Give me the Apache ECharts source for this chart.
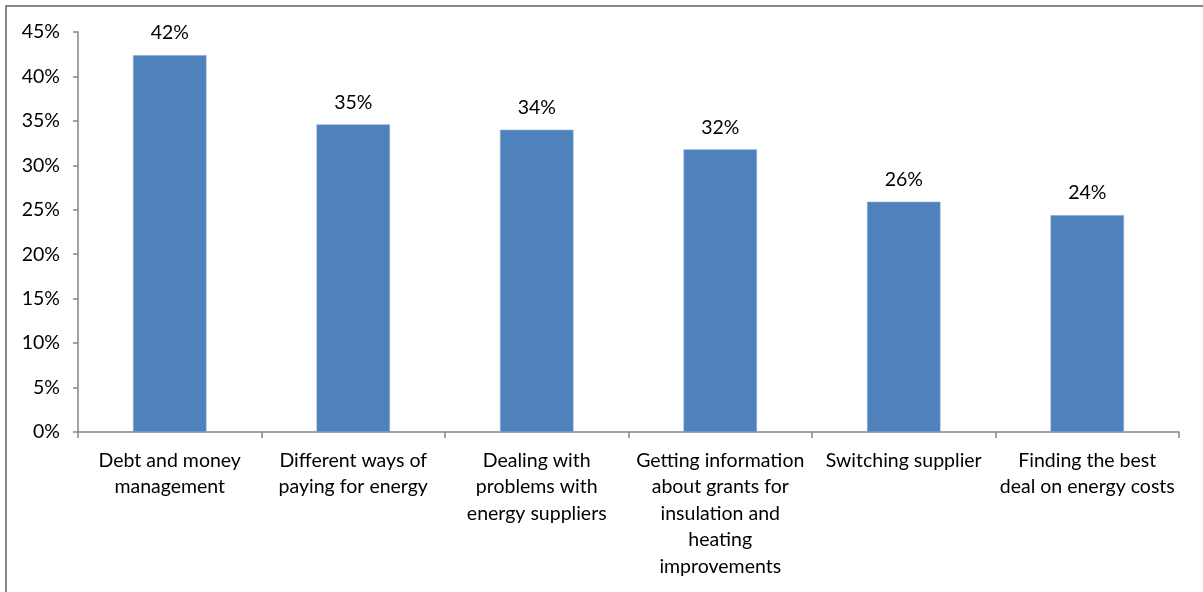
<!DOCTYPE html>
<html>
<head>
<meta charset="utf-8">
<title>Advice topics</title>
<script src="https://cdn.jsdelivr.net/npm/echarts@6/dist/echarts.min.js"></script>
<style>
  html, body { margin: 0; padding: 0; background: #ffffff; }
  #chart { width: 1203px; height: 592px; }
</style>
</head>
<body>
<div id="chart"></div>
<script>
// Advice topics and share of respondents (%)
const categories = [
  'Debt and money\nmanagement',
  'Different ways of\npaying for energy',
  'Dealing with\nproblems with\nenergy suppliers',
  'Getting information\nabout grants for\ninsulation and\nheating\nimprovements',
  'Switching supplier',
  'Finding the best\ndeal on energy costs'
];
const shares = [42.4, 34.6, 34.0, 31.8, 25.9, 24.4];
const yTicks = { min: 0, max: 45, step: 5 };

const FONT = 'Lato, "Open Sans", sans-serif';
const FONT_SIZE = 19.5;
const AXIS_GREY = '#868686';

const chart = echarts.init(document.getElementById('chart'), null, { renderer: 'canvas' });

chart.setOption({
  animation: false,
  backgroundColor: '#ffffff',
  grid: { left: 78, right: 24, top: 32, bottom: 160, containLabel: false },
  graphic: [
    { type: 'line', shape: { x1: 5, y1: 6, x2: 1203, y2: 6 },
      style: { stroke: AXIS_GREY, lineWidth: 2 }, silent: true },
    { type: 'line', shape: { x1: 6, y1: 5, x2: 6, y2: 592 },
      style: { stroke: AXIS_GREY, lineWidth: 2 }, silent: true }
  ],
  xAxis: {
    type: 'category',
    data: categories,
    boundaryGap: true,
    axisLine: { show: true, lineStyle: { color: AXIS_GREY, width: 1.5 } },
    axisTick: { show: true, alignWithLabel: false, length: 6, lineStyle: { color: AXIS_GREY, width: 1.5 } },
    axisLabel: {
      interval: 0,
      margin: 15,
      color: '#000000',
      fontFamily: FONT,
      fontSize: FONT_SIZE,
      lineHeight: 26.5,
      align: 'center',
      verticalAlign: 'top'
    },
    splitLine: { show: false }
  },
  yAxis: {
    type: 'value',
    min: yTicks.min,
    max: yTicks.max,
    interval: yTicks.step,
    axisLine: { show: true, lineStyle: { color: AXIS_GREY, width: 1.5 } },
    axisTick: { show: true, length: 5, lineStyle: { color: AXIS_GREY, width: 1.5 } },
    axisLabel: {
      margin: 18,
      color: '#000000',
      fontFamily: FONT,
      fontSize: FONT_SIZE,
      formatter: v => v + '%'
    },
    splitLine: { show: false }
  },
  series: [{
    type: 'bar',
    data: shares,
    barWidth: '40%',
    itemStyle: { color: '#4F81BD', borderColor: '#7FA3CF', borderWidth: 0.6 },
    label: {
      show: true,
      position: 'top',
      distance: 12,
      color: '#000000',
      fontFamily: FONT,
      fontSize: FONT_SIZE,
      formatter: p => Math.round(p.value) + '%'
    }
  }]
});
</script>
</body>
</html>
